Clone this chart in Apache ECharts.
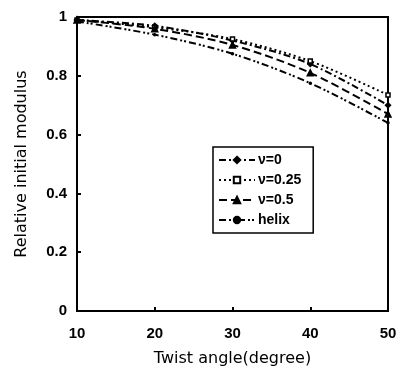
<!DOCTYPE html>
<html>
<head>
<meta charset="utf-8">
<script src="https://cdn.jsdelivr.net/npm/echarts@6/dist/echarts.min.js"></script>
<style>html,body{margin:0;padding:0;background:#fff}#c{width:402px;height:380px}</style>
</head>
<body>
<div id="c"></div>
<script>
const angles = [10, 20, 30, 40, 50];
const nu0 = [0.99, 0.97, 0.92, 0.84, 0.70];
const nu025 = [0.99, 0.965, 0.925, 0.85, 0.735];
const nu05 = [0.99, 0.96, 0.905, 0.81, 0.67];
const helix = [0.985, 0.94, 0.875, 0.775, 0.64];
const seriesNames = ['\u03bd=0', '\u03bd=0.25', '\u03bd=0.5', 'helix'];
const yTicks = [0, 0.2, 0.4, 0.6, 0.8, 1];

const chart = echarts.init(document.getElementById('c'));
const pair = arr => angles.map((a, i) => [a, arr[i]]);
const tickFont = "'Liberation Sans', Arial, sans-serif";
const styles = [
  {dash: [7, 3, 2, 3], symbol: 'diamond', size: 5, fill: '#000'},
  {dash: [2, 3], symbol: 'rect', size: 4, fill: '#fff'},
  {dash: [8, 4], symbol: 'triangle', size: 6, fill: '#000'},
  {dash: [7, 3, 2, 2, 2, 3], symbol: 'circle', size: 2, fill: '#000'}
];
const datasets = [nu0, nu025, nu05, helix];
chart.setOption({
  animation: false,
  grid: {left: 77, right: 14, top: 17, bottom: 69, show: true, borderColor: '#000', borderWidth: 2},
  legend: {
    orient: 'vertical', left: 213, top: 147, padding: [6, 12, 6, 5],
    borderColor: '#000', borderWidth: 1.5, itemWidth: 36, itemHeight: 8, itemGap: 6,
    textStyle: {fontFamily: 'Liberation Sans', fontWeight: 'bold', fontSize: 14, color: '#000', padding: [0, 0, 0, -2]},
    data: seriesNames
  },
  xAxis: {
    type: 'value', min: 10, max: 50, interval: 10,
    name: 'Twist angle(degree)', nameLocation: 'middle', nameGap: 40,
    nameTextStyle: {fontFamily: 'DejaVu Sans', fontSize: 16, color: '#000'},
    axisLine: {lineStyle: {color: '#000', width: 2}},
    axisTick: {inside: true, length: 4, lineStyle: {color: '#000', width: 2}},
    axisLabel: {fontFamily: tickFont, fontWeight: 'bold', fontSize: 15, color: '#000', margin: 15},
    splitLine: {show: false}
  },
  yAxis: {
    type: 'value', min: 0, max: 1, interval: 0.2,
    name: 'Relative initial modulus', nameLocation: 'middle', nameGap: 47,
    nameTextStyle: {fontFamily: 'DejaVu Sans', fontSize: 16, color: '#000'},
    axisLine: {lineStyle: {color: '#000', width: 2}},
    axisTick: {inside: true, length: 4, lineStyle: {color: '#000', width: 2}},
    axisLabel: {fontFamily: tickFont, fontWeight: 'bold', fontSize: 15, color: '#000', margin: 10,
      formatter: v => yTicks.includes(+v.toFixed(1)) ? String(+v.toFixed(1)) : ''},
    splitLine: {show: false}
  },
  series: datasets.map((d, i) => ({
    name: seriesNames[i], type: 'line', data: pair(d), smooth: 0.3,
    symbol: styles[i].symbol, symbolSize: styles[i].size,
    lineStyle: {color: '#000', width: 2, type: styles[i].dash},
    itemStyle: {color: styles[i].fill, borderColor: '#000', borderWidth: 1.5}
  }))
});
</script>
</body>
</html>
